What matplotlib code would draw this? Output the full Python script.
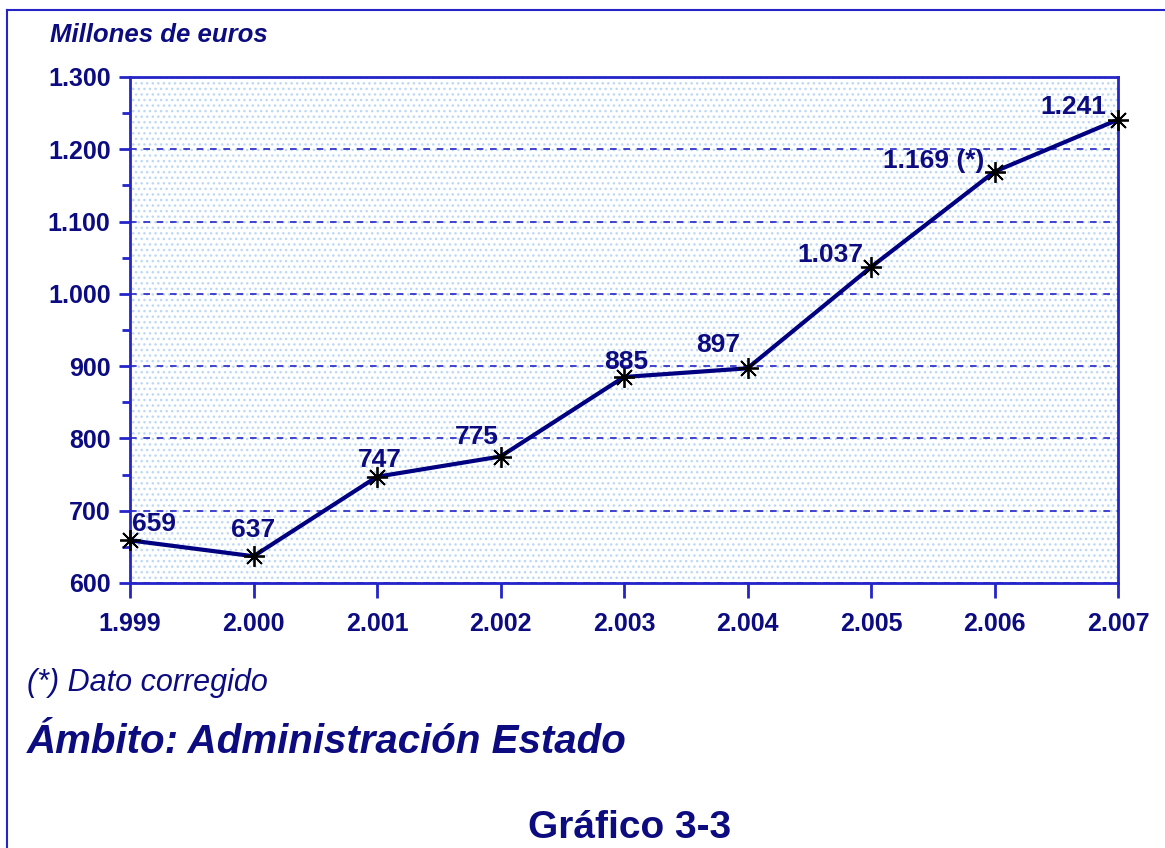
import numpy as np
import matplotlib.pyplot as plt
from matplotlib.patches import Rectangle
from matplotlib.lines import Line2D
from matplotlib.ticker import MultipleLocator

plt.rcParams['font.family'] = ['Liberation Sans', 'DejaVu Sans']

# datos
years = [1999, 2000, 2001, 2002, 2003, 2004, 2005, 2006, 2007]
values = [659, 637, 747, 775, 885, 897, 1037, 1169, 1241]
point_labels = ["659", "637", "747", "775", "885", "897", "1.037", "1.169 (*)", "1.241"]
year_labels = ["1.999", "2.000", "2.001", "2.002", "2.003", "2.004", "2.005", "2.006", "2.007"]
y_ticks = [600, 700, 800, 900, 1000, 1100, 1200, 1300]
y_tick_labels = ["600", "700", "800", "900", "1.000", "1.100", "1.200", "1.300"]

# desplazamiento de cada etiqueta (pixeles)
label_offsets = [(24, 16), (0, 26), (3, 17), (-24, 20), (2, 15), (-29, 23),
                 (-41, 12), (-61, 11), (-45, 13)]

navy = '#0c0c80'
blue = '#2424c8'

fig = plt.figure(figsize=(11.65, 8.48), dpi=100)
ax = fig.add_axes([130 / 1165, 1 - 583 / 848, 988 / 1165, 506 / 848])

# fondo punteado
ax.add_patch(Rectangle((0, 0), 1, 1, transform=ax.transAxes, facecolor='white',
                       edgecolor='#bcd8f6', hatch='...', linewidth=0, zorder=0))

ax.plot(years, values, color='#000080', linewidth=3, zorder=3, clip_on=False)
ax.plot(years, values, linestyle='none', marker=(8, 2, 0), markersize=15,
        markeredgecolor='black', markeredgewidth=1.3, zorder=4, clip_on=False)

for x, y, lab, off in zip(years, values, point_labels, label_offsets):
    ax.annotate(lab, (x, y), xytext=off, textcoords='offset pixels',
                ha='center', va='center', fontsize=19, fontweight='bold',
                color=navy, zorder=5)

ax.set_xlim(1999, 2007)
ax.set_ylim(600, 1300)
ax.set_xticks(years)
ax.set_xticklabels(year_labels)
ax.set_yticks(y_ticks)
ax.set_yticklabels(y_tick_labels)
ax.yaxis.set_minor_locator(MultipleLocator(50))

for lbl in ax.get_xticklabels() + ax.get_yticklabels():
    lbl.set_fontweight('bold')
    lbl.set_fontsize(18)
    lbl.set_color(navy)

ax.tick_params(axis='x', length=11, width=2, color=blue, pad=10)
ax.tick_params(axis='y', which='major', length=8, width=2, color=blue, pad=6)
ax.tick_params(axis='y', which='minor', length=6, width=2, color=blue)

ax.yaxis.grid(True, color=blue, linestyle=(0, (4, 4)), linewidth=1.2, zorder=1)
ax.set_axisbelow(True)
for s in ax.spines.values():
    s.set_color(blue)
    s.set_linewidth(2)

# marco exterior
fig.add_artist(Line2D([7 / 1165, 7 / 1165], [0, 1 - 10 / 848], color=blue, linewidth=1.5))
fig.add_artist(Line2D([7 / 1165, 1], [1 - 10 / 848, 1 - 10 / 848], color=blue, linewidth=1.5))

fig.text(50 / 1165, 1 - 42 / 848, "Millones de euros", fontsize=18.5, fontweight='bold',
         style='italic', color=navy, va='baseline')
fig.text(27 / 1165, 1 - 691 / 848, "(*) Dato corregido", fontsize=22,
         style='italic', color=navy, va='baseline')
fig.text(27 / 1165, 1 - 753 / 848, "Ámbito: Administración Estado", fontsize=29,
         fontweight='bold', style='italic', color=navy, va='baseline')
fig.text(630 / 1165, 1 - 838 / 848, "Gráfico 3-3", fontsize=28, fontweight='bold',
         color=navy, va='baseline', ha='center')

fig.savefig('out.png', dpi=100)
